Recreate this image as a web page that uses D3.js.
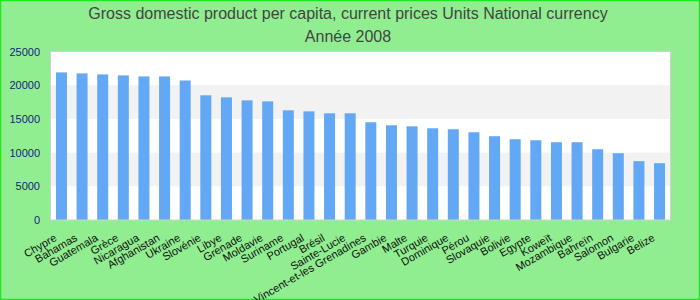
<!DOCTYPE html>
<html>
<head>
<meta charset="utf-8">
<script src="https://cdn.jsdelivr.net/npm/d3@7"></script>
<style>
  body { margin: 0; }
</style>
</head>
<body>
<div id="chart"></div>
<script>
var countries = ['Chypre', 'Bahamas', 'Guatemala', 'Grèce', 'Nicaragua', 'Afghanistan', 'Ukraine', 'Slovénie',
  'Libye', 'Grenade', 'Moldavie', 'Suriname', 'Portugal', 'Brésil', 'Sainte-Lucie',
  'Saint-Vincent-et-les Grenadines', 'Gambie', 'Malte', 'Turquie', 'Dominique', 'Pérou', 'Slovaquie',
  'Bolivie', 'Egypte', 'Koweït', 'Mozambique', 'Bahreïn', 'Salomon', 'Bulgarie', 'Belize'];
var gdp = [21900, 21750, 21600, 21450, 21300, 21300, 20700, 18500,
  18200, 17750, 17600, 16270, 16120, 15830, 15830,
  14500, 14050, 13900, 13610, 13460, 13020, 12430,
  11980, 11830, 11540, 11540, 10500, 9910, 8730, 8430];
var yTicks = [0, 5000, 10000, 15000, 20000, 25000];
var titleLines = ['Gross domestic product per capita, current prices Units National currency', 'Année 2008'];

(function() {

  init();

  function init() {
    var width = 700;
    var height = 300;
    var margin = {top: 51.5, right: 30, bottom: 80, left: 51};

    var svg = d3.select('#chart')
      .append('svg')
      .attr('width', width)
      .attr('height', height);

    // background + bright green frame
    svg.append('rect')
      .attr('x', 0.5)
      .attr('y', 0.5)
      .attr('width', width - 1)
      .attr('height', height - 1)
      .attr('fill', '#90ee90')
      .attr('stroke', '#1ee81e')
      .attr('stroke-width', 1.5);

    svg.selectAll('text.title')
      .data(titleLines)
      .enter()
      .append('text')
      .attr('class', 'title')
      .attr('x', 348)
      .attr('y', function(d, i) { return 19 + i * 23; })
      .attr('text-anchor', 'middle')
      .attr('font-family', 'Liberation Sans, Arial, sans-serif')
      .attr('font-size', 16)
      .attr('fill', '#444')
      .text(function(d) { return d; });

    var x = d3.scaleBand()
      .domain(countries)
      .range([margin.left, width - margin.right])
      .paddingInner(0.467)
      .paddingOuter(0.24);

    var y = d3.scaleLinear()
      .domain([0, 25000])
      .range([height - margin.bottom, margin.top]);

    var plot = svg.append('g');

    plot.append('rect')
      .attr('x', margin.left - 0.5)
      .attr('y', y(25000))
      .attr('width', width - margin.right - margin.left + 1)
      .attr('height', y(0) - y(25000))
      .attr('fill', '#fff');

    // alternating grey bands
    var bands = [[5000, 10000], [15000, 20000]];
    plot.selectAll('rect.band')
      .data(bands)
      .enter()
      .append('rect')
      .attr('class', 'band')
      .attr('x', margin.left)
      .attr('y', function(d) { return y(d[1]); })
      .attr('width', width - margin.right - margin.left)
      .attr('height', function(d) { return y(d[0]) - y(d[1]); })
      .attr('fill', '#f2f2f2');

    plot.selectAll('rect.bar')
      .data(gdp)
      .enter()
      .append('rect')
      .attr('class', 'bar')
      .attr('x', function(d, i) { return x(countries[i]); })
      .attr('y', function(d) { return y(d); })
      .attr('width', x.bandwidth())
      .attr('height', function(d) { return y(0) - y(d); })
      .attr('fill', '#62a8f4');

    plot.append('rect')
      .attr('x', margin.left - 0.5)
      .attr('y', y(25000))
      .attr('width', width - margin.right - margin.left + 1)
      .attr('height', y(0) - y(25000))
      .attr('fill', 'none')
      .attr('stroke', '#d0d0d0')
      .attr('stroke-width', 1);

    var yAxis = svg.append('g')
      .attr('transform', 'translate(' + (margin.left - 11) + ',0)')
      .call(d3.axisLeft(y).tickValues(yTicks).tickFormat(d3.format('d')).tickSize(0).tickPadding(0));
    yAxis.select('.domain').remove();
    yAxis.selectAll('text')
      .attr('font-family', 'Liberation Sans, Arial, sans-serif')
      .attr('font-size', 11)
      .attr('fill', '#1a1a85');

    var xAxis = svg.append('g')
      .attr('transform', 'translate(0,' + y(0) + ')')
      .call(d3.axisBottom(x).tickSize(0).tickPadding(0));
    xAxis.select('.domain').remove();
    xAxis.selectAll('text')
      .attr('font-family', 'Liberation Sans, Arial, sans-serif')
      .attr('font-size', 11)
      .attr('fill', '#111')
      .attr('text-anchor', 'end')
      .attr('dy', null)
      .attr('y', 0)
      .attr('transform', 'translate(-4,20) rotate(-30)');
  }

})();
</script>
</body>
</html>
